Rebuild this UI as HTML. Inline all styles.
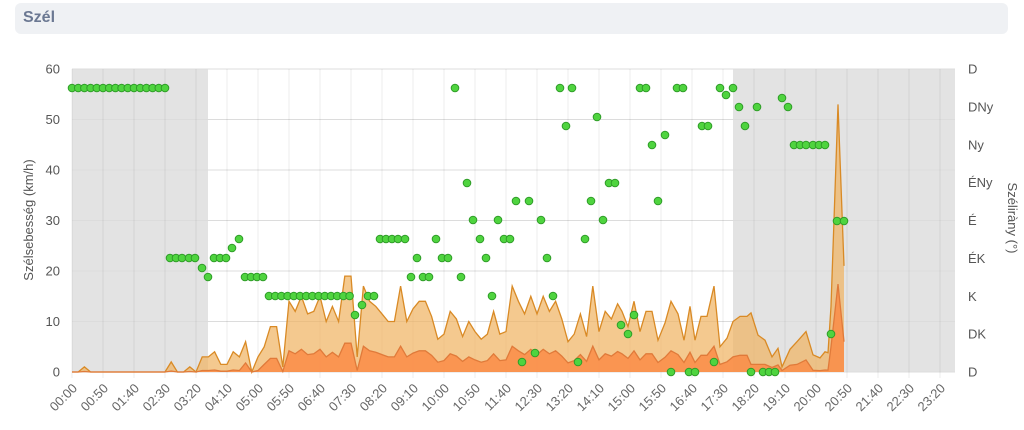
<!DOCTYPE html>
<html><head><meta charset="utf-8"><style>
body{margin:0;background:#fff;width:1024px;height:430px;overflow:hidden;font-family:"Liberation Sans",sans-serif}
.bar{position:absolute;left:15px;top:3px;width:993px;height:31px;background:#eff1f4;border-radius:6px}
.bar span{position:absolute;left:8px;top:6px;font-weight:bold;font-size:16px;color:#6b7892}
svg{position:absolute;left:0;top:0}
</style></head><body>
<div class="bar"><span>Szél</span></div>
<svg id="s" width="1024" height="430" font-family="Liberation Sans, sans-serif"></svg>
<script>
var s=document.getElementById('s'),h='';
var X0=72,X1=955,Y0=372,Y60=69,K=(Y0-Y60)/60;
function yk(v){return Y0-v*K}
h+='<rect x="72" y="69" width="136" height="303" fill="#e3e3e3"/>';
h+='<rect x="733" y="69" width="222" height="303" fill="#e3e3e3"/>';
for(var i=0;i<=6;i++){var y=yk(i*10);h+='<line x1="72" x2="955" y1="'+y+'" y2="'+y+'" stroke="#dcdcdc"/>';}
var labs=[];
for(var i=0;i<29;i++){var x=X0+i*31;var m=i*50;var t=('0'+Math.floor(m/60)).slice(-2)+':'+('0'+m%60).slice(-2);
h+='<line x1="'+x+'" x2="'+x+'" y1="69" y2="378" stroke="rgba(0,0,0,0.07)"/>';
labs.push('<text transform="translate('+(x+6)+',389) rotate(-45)" text-anchor="end" font-size="13" fill="#666">'+t+'</text>');}
var g=[0,0,1,0,0,0,0,0,0,0,0,0,0,0,0,0,2,0,0,1,0,3,3,4,1.5,1.5,4,3,6,0,3,5,9,9,1,14,12,15,11.5,12,15,10,13,10,19,19,3,17,14,13,11.5,10,10,17,10,12.5,14,14,11,6.5,7.5,12,10.5,7,10,8,6.5,7.5,12,7.5,8,17,14,11.5,15,11.5,15,12,14,10.5,6,7.5,11.5,7,17,8,12,10.5,13.5];
var pts=[];for(var i=0;i<g.length;i++)pts.push([X0+i*6.2,g[i]]);
var px=[[622,12],[628,9],[634,14],[640,8],[646,12],[652,12],[658,6.3],[665,9.7],[671,14],[678,11.5],[684,6.3],[690,13],[695,6.3],[701,11],[707,11],[714,17],[720,5],[727,6.7],[733,10],[740,11],[747,11],[751,11.7],[758,7.3],[765,6.3],[772,3],[778,4.7],[782,1],[790,4.5],[797,6],[806,8],[813,3.4],[820,2.8],[825,4],[828,3.8],[831,13],[838,53],[844,21]];
pts=pts.concat(px);
function sp(p){var x=p[0],v=p[1];if(x>=831){return x==831?5:(x==838?17.4:6)}if(x>=750&&x<=800)return Math.min(v*0.3,1.5);return v<5?v*0.1:v*0.3}
var sd=pts.map(function(p){return [p[0],sp(p)]});
function area(a,fill,stroke){var d='M'+a[0][0]+','+Y0;a.forEach(function(p){d+=' L'+p[0].toFixed(1)+','+yk(p[1]).toFixed(1)});d+=' L'+a[a.length-1][0]+','+Y0+'Z';
var l='M'+a.map(function(p){return p[0].toFixed(1)+','+yk(p[1]).toFixed(1)}).join(' L');
return '<path d="'+d+'" fill="'+fill+'"/><path d="'+l+'" fill="none" stroke="'+stroke+'" stroke-width="1.3"/>';}
h+=area(pts,'rgba(240,180,100,0.72)','#d98a25');
h+=area(sd,'rgba(250,140,70,0.85)','#e07a3a');
var dots=[];for(var i=0;i<16;i++)dots.push([72+i*6.2,88]);
dots=dots.concat([[170,258],[176,258],[182,258],[189,258],[195,258],[202,268],[208,277],[214,258],[220,258],[226,258],[232,248],[239,239],[245,277],[251,277],[257,277],[263,277]]);
for(var i=0;i<14;i++)dots.push([269+i*6.2,296]);
dots=dots.concat([[355,315],[362,305],[368,296],[374,296],[380,239],[386,239],[392,239],[398,239],[405,239],[411,277],[417,258],[423,277],[429,277],[436,239],[442,258],[448,258],[455,88],[461,277],[467,183],[473,220],[480,239],[486,258],[492,296],[498,220],[504,239],[510,239],[516,201],[522,362],[529,201],[535,353],[541,220],[547,258],[553,296],[560,88],[566,126],[572,88],[578,362],[585,239],[591,201],[597,117],[603,220],[609,183],[615,183],[621,325],[628,334],[634,315],[640,88],[646,88],[652,145],[658,201],[665,135],[671,372],[677,88],[683,88],[689,372],[695,372],[702,126],[708,126],[714,362],[720,88],[726,95],[733,88],[739,107],[745,126],[751,372],[757,107],[763,372],[769,372],[775,372],[782,98],[788,107],[794,145],[800,145],[806,145],[813,145],[819,145],[825,145],[831,334],[837,221],[844,221]]);
dots.forEach(function(d){h+='<circle cx="'+d[0]+'" cy="'+d[1]+'" r="3.8" fill="#4fd43f" stroke="#2f9c28" stroke-width="1"/>'});
for(var i=0;i<=6;i++)h+='<text x="60" y="'+(yk(i*10)+4.5)+'" text-anchor="end" font-size="13" fill="#555">'+i*10+'</text>';
var dirs=['D','DK','K','ÉK','É','ÉNy','Ny','DNy','D'];
for(var i=0;i<9;i++)h+='<text x="968" y="'+(Y0-i*(303/8)+4.5)+'" font-size="13" fill="#555">'+dirs[i]+'</text>';
h+='<text transform="translate(33,220) rotate(-90)" text-anchor="middle" font-size="13" fill="#555">Szélsebesség (km/h)</text>';
h+='<text transform="translate(1008,218) rotate(90)" text-anchor="middle" font-size="13" fill="#555">Széliràny (°)</text>';
h+=labs.join('');
s.innerHTML=h;
</script>
</body></html>
